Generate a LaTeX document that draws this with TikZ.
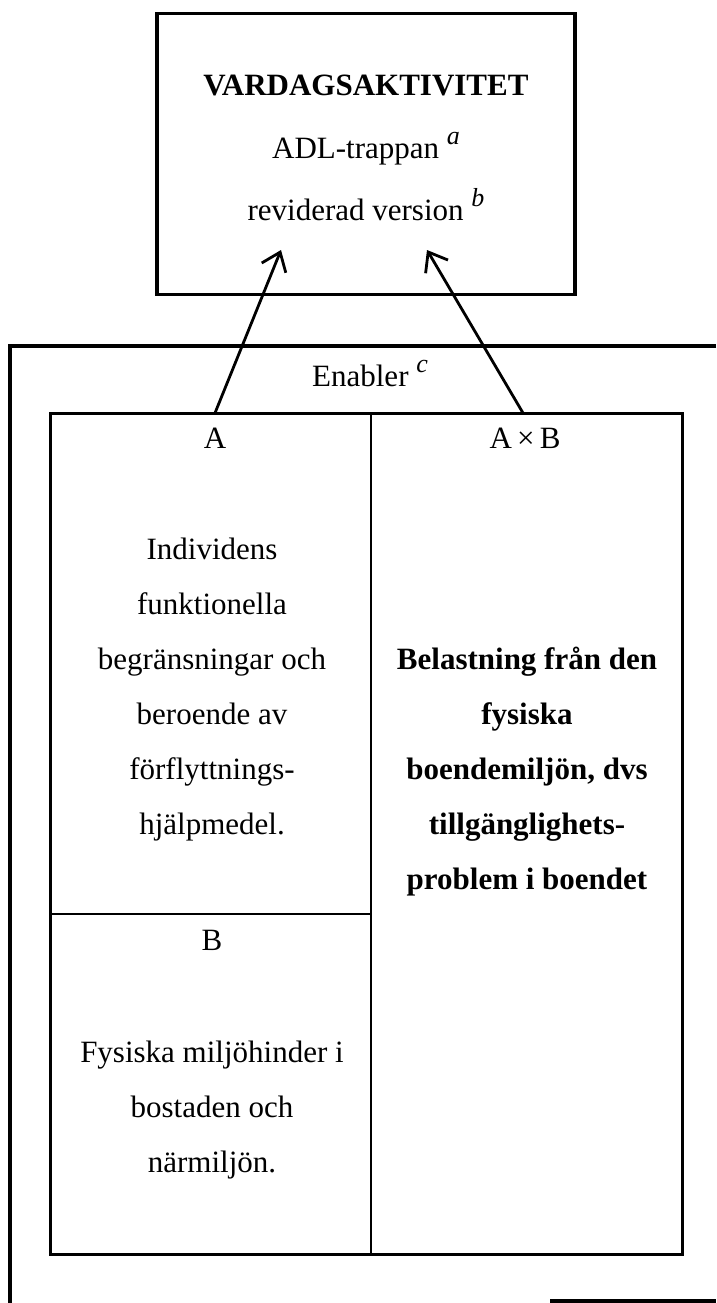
\documentclass[tikz,border=0pt]{standalone}
\usepackage{fontspec}
\setmainfont{Liberation Serif}
\usetikzlibrary{arrows.meta}
\newcommand\supit[1]{\raisebox{0.45em}{\fontsize{26}{26}\selectfont\itshape #1}}
\begin{document}
\begin{tikzpicture}[x=1pt,y=-1pt,
  txt/.style={inner sep=0pt, anchor=base, font=\fontsize{31}{37}\selectfont},
  btxt/.style={inner sep=0pt, anchor=base, font=\fontsize{31}{37}\selectfont\bfseries},
  frame/.style={draw=black, line width=3.8pt},
  cell/.style={draw=black, line width=3pt},
  divider/.style={draw=black, line width=2.2pt},
  arr/.style={draw=black, line width=2.8pt, -{Straight Barb[length=17pt,width=26pt,line width=2.8pt]}}
]
\useasboundingbox (0,0) rectangle (716,1303);
\fill[white] (0,0) rectangle (716,1303);

% top box
\node[frame, minimum width=418pt, minimum height=281pt, inner sep=0pt] (top) at (366,154) {};
\node[btxt] (t1) at (366,96) {VARDAGSAKTIVITET};
\node[txt] (t2) at (366,158) {ADL-trappan \supit{a}};
\node[txt] (t3) at (366,220) {reviderad version \supit{b}};

% outer enabler frame
\draw[frame] (716,346) -- (10,346) -- (10,1303);
\draw[frame] (550,1301) -- (716,1301);
\node[txt] (en) at (370,386) {Enabler \supit{c}};

% inner grid
\draw[cell] (50,413) rectangle (682,1254);
\draw[divider] (371,413) -- (371,1254);
\draw[divider] (50,914) -- (371,914);

\node[txt] (lA) at (215,448) {A};
\node[txt] (lAB) at (525,448) {A\,×\,B};

\node[txt] (a1) at (212,559) {Individens};
\node[txt] (a2) at (212,614) {funktionella};
\node[txt] (a3) at (212,669) {begränsningar och};
\node[txt] (a4) at (212,724) {beroende av};
\node[txt] (a5) at (212,779) {förflyttnings-};
\node[txt] (a6) at (212,834) {hjälpmedel.};

\node[btxt] (c1) at (527,669) {Belastning från den};
\node[btxt] (c2) at (527,724) {fysiska};
\node[btxt] (c3) at (527,779) {boendemiljön, dvs};
\node[btxt] (c4) at (527,834) {tillgänglighets-};
\node[btxt] (c5) at (527,889) {problem i boendet};

\node[txt] (lB) at (212,950) {B};
\node[txt] (b1) at (212,1062) {Fysiska miljöhinder i};
\node[txt] (b2) at (212,1117) {bostaden och};
\node[txt] (b3) at (212,1172) {närmiljön.};

% arrows
\coordinate (s1) at (215,413);
\coordinate (e1) at (281,250);
\coordinate (s2) at (523,413);
\coordinate (e2) at (427,250);
\draw[arr] (s1) -- (e1);
\draw[arr] (s2) -- (e2);
\end{tikzpicture}
\end{document}
